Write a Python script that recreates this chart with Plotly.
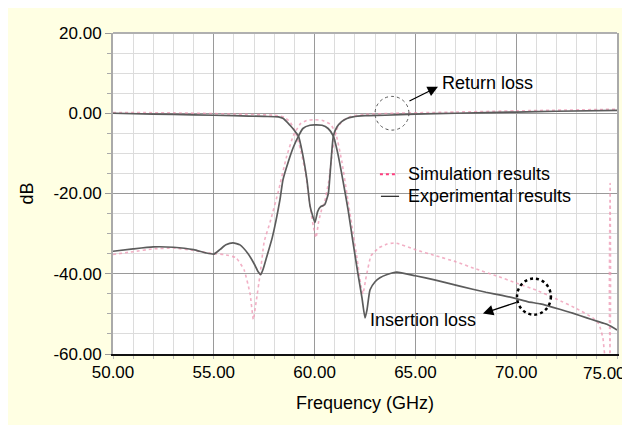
import plotly.graph_objects as go

# ---------------- data ----------------
# Return loss (S11), experimental
rl_exp_f = [50, 52, 54, 56, 57.5, 58.2, 58.45, 58.78, 59.0, 59.2, 59.4, 59.62, 59.77, 59.9, 60.02,
            60.15, 60.3, 60.5, 60.68, 60.8, 60.93, 61.1, 61.34, 61.6, 61.9, 62.5, 63.5, 65, 67, 70, 72, 75]
rl_exp_db = [0.0, -0.2, -0.4, -0.6, -0.8, -0.9, -1.3, -3.0, -4.3, -5.7, -10.0, -16.6, -23.0, -25.5, -27.2,
             -24.5, -23.3, -22.8, -20.0, -13.0, -5.7, -3.5, -2.1, -1.3, -0.9, -0.6, -0.5, -0.2, 0.0, 0.3, 0.5, 0.7]

# Return loss (S11), simulation
rl_sim_f = [50, 53, 56, 58, 58.5, 58.8, 59.05, 59.3, 59.55, 59.8, 59.95, 60.07, 60.2, 60.35, 60.5,
            60.7, 60.9, 61.1, 61.4, 61.8, 62.5, 64, 67, 70, 75]
rl_sim_db = [0.2, 0.1, -0.2, -0.5, -1.0, -2.3, -4.8, -9.0, -15.0, -24.0, -28.5, -31.0, -27.0, -24.0, -22.0,
             -17.0, -9.0, -4.0, -1.8, -0.8, -0.3, 0.0, 0.3, 0.6, 1.0]

# Insertion loss (S21), experimental
il_exp_f = [50, 51, 52, 53, 54, 54.6, 55.0, 55.3, 55.6, 55.95, 56.3, 56.7, 57.0, 57.2, 57.33, 57.45,
            57.6, 57.9, 58.28, 58.43, 58.7, 58.95, 59.2, 59.42, 59.77, 60.0, 60.37, 60.67, 60.93,
            61.15, 61.4, 61.66, 61.9, 62.15, 62.35, 62.5, 62.6, 62.75, 63.0, 63.24, 63.6, 64.07,
            65.0, 66.0, 67.2, 68.5, 69.3, 70.0, 70.6, 71.2, 72.2, 72.8, 73.5, 74.0, 74.5, 74.8, 75.0]
il_exp_db = [-34.4, -33.8, -33.3, -33.4, -34.0, -34.8, -35.1, -34.0, -32.8, -32.3, -32.8, -35.0, -37.5,
             -39.5, -40.2, -38.8, -36.2, -31.0, -21.6, -16.6, -12.0, -8.4, -5.7, -3.8, -3.0, -2.9,
             -3.0, -3.8, -5.7, -10.0, -16.6, -24.0, -32.0, -40.0, -46.0, -51.0, -49.0, -44.0, -42.0,
             -41.0, -40.2, -39.6, -40.5, -41.6, -43.1, -44.6, -45.4, -46.2, -47.0, -47.5, -48.9,
             -49.8, -51.0, -51.8, -52.6, -53.4, -54.0]

# Insertion loss (S21), simulation
il_sim_f = [50, 51, 52, 53, 54, 55, 55.5, 56.1, 56.5, 56.8, 56.96, 57.1, 57.3, 57.5, 57.8, 58.2,
            58.6, 58.95, 59.3, 59.6, 60.0, 60.4, 60.8, 61.05, 61.35, 61.6, 61.85, 62.1, 62.3, 62.4,
            62.55, 62.8, 63.2, 63.6, 64.0, 65, 66, 67, 68, 69, 70, 71, 72, 73, 73.8, 74.1, 74.3,
            74.45, 74.6, 74.66, 74.72, 75.0]
il_sim_db = [-35.2, -34.5, -33.8, -33.6, -34.2, -35.0, -35.2, -36.0, -39.0, -45.0, -51.4, -47.0, -40.0,
             -32.0, -27.0, -19.5, -11.0, -5.5, -2.6, -1.8, -1.6, -1.8, -2.8, -5.0, -12.0, -20.0,
             -28.0, -36.0, -43.0, -45.0, -41.0, -35.5, -33.5, -32.6, -32.3, -34.0, -35.5, -37.0,
             -38.8, -40.5, -42.3, -44.1, -46.3, -48.7, -51.0, -52.5, -56.0, -62.0, -62.0, -17.5,
             -62.0, -62.0]

x_ticks = [50, 55, 60, 65, 70, 75]
y_ticks = [20, 0, -20, -40, -60]

# ---------------- layout geometry (pixels, figure coordinates) ----------------
W, H = 630, 425
L, T = 105, 25
R = W - 609
B = H - 346

FONT = "Liberation Sans, Arial, sans-serif"
EXP_COLOR = "#5c5c5c"
SIM_COLOR = "rgba(238,150,178,0.75)"

fig = go.Figure()
fig.add_trace(go.Scatter(x=rl_sim_f, y=rl_sim_db, mode="lines", name="Simulation results",
                         line=dict(color=SIM_COLOR, width=1.6, dash="dot", shape="spline", smoothing=0.5),
                         showlegend=False))
fig.add_trace(go.Scatter(x=il_sim_f, y=il_sim_db, mode="lines", name="Simulation results",
                         line=dict(color=SIM_COLOR, width=1.6, dash="dot", shape="spline", smoothing=0.4),
                         showlegend=False))
fig.add_trace(go.Scatter(x=rl_exp_f, y=rl_exp_db, mode="lines", name="Experimental results",
                         line=dict(color=EXP_COLOR, width=1.7, shape="spline", smoothing=0.5),
                         showlegend=False))
fig.add_trace(go.Scatter(x=il_exp_f, y=il_exp_db, mode="lines", name="Experimental results",
                         line=dict(color=EXP_COLOR, width=1.7, shape="spline", smoothing=0.5),
                         showlegend=False))

shapes = [
    # top border
    dict(type="line", xref="paper", yref="paper", x0=0, x1=1, y0=1, y1=1,
         line=dict(color="#b0b0b0", width=2)),
    # circles
    dict(type="circle", xref="x", yref="y", x0=63.0, x1=64.68, y0=-4.2, y1=4.2,
         line=dict(color="#555555", width=1, dash="dot")),
    dict(type="circle", xref="x", yref="y", x0=70.04, x1=71.72, y0=-50.2, y1=-41.2,
         line=dict(color="black", width=2.5, dash="dot")),
    # legend samples
    dict(type="line", xref="x", yref="y", x0=63.24, x1=64.14, y0=-15.2, y1=-15.2,
         line=dict(color="#ff3d7f", width=2, dash="dot")),
    dict(type="line", xref="x", yref="y", x0=63.29, x1=64.19, y0=-20.7, y1=-20.7,
         line=dict(color="#222222", width=1.2)),
]

ann_font = dict(family=FONT, size=18, color="black")
tick_font = dict(family=FONT, size=17, color="black")

# last x tick label is pulled inside the canvas, as in the reference
x_ticktext = [f"{v:.2f}" for v in x_ticks]
last_label = x_ticktext[-1]
x_ticktext[-1] = ""

annotations = [
    dict(x=66.22, y=7.5, xref="x", yref="y", text="Return loss", showarrow=False,
         xanchor="left", yanchor="middle", font=ann_font),
    dict(x=68.1, y=-51.5, xref="x", yref="y", text="Insertion loss", showarrow=False,
         xanchor="right", yanchor="middle", font=ann_font),
    dict(x=64.53, y=-15.2, xref="x", yref="y", text="Simulation results", showarrow=False,
         xanchor="left", yanchor="middle", font=ann_font),
    dict(x=64.53, y=-20.7, xref="x", yref="y", text="Experimental results", showarrow=False,
         xanchor="left", yanchor="middle", font=ann_font),
    dict(x=1, y=0, xref="paper", yref="paper", text=last_label, showarrow=False,
         xanchor="right", yanchor="middle", xshift=11, yshift=-19, font=tick_font),
    # arrows
    dict(x=66.12, y=6.6, ax=64.63, ay=2.87, xref="x", yref="y", axref="x", ayref="y",
         text="", showarrow=True, arrowhead=2, arrowsize=1.6, arrowwidth=1.3, arrowcolor="black"),
    dict(x=68.35, y=-49.9, ax=70.09, ay=-47.0, xref="x", yref="y", axref="x", ayref="y",
         text="", showarrow=True, arrowhead=2, arrowsize=1.6, arrowwidth=1.3, arrowcolor="black"),
]

fig.update_layout(
    width=W, height=H,
    margin=dict(l=L, r=R, t=T, b=B, autoexpand=False),
    paper_bgcolor="#FFFFE3", plot_bgcolor="white",
    shapes=shapes, annotations=annotations,
    font=dict(family=FONT, size=17, color="black"),
    xaxis=dict(range=[50, 75.0001], tickvals=x_ticks, ticktext=x_ticktext,
               showgrid=True, gridcolor="#9a9a9a", gridwidth=1,
               minor=dict(dtick=1, showgrid=True, gridcolor="#dcdcdc", gridwidth=1.3,
                          ticks="outside", ticklen=3, tickcolor="#bbbbbb"),
               showline=True, linecolor="#111111", linewidth=2, mirror=False,
               ticks="", tickfont=tick_font, zeroline=False, ticklabelstandoff=2,
               title=dict(text="Frequency (GHz)", font=dict(family=FONT, size=18), standoff=15)),
    yaxis=dict(range=[-60, 20], tickvals=y_ticks, ticktext=[f"{v:.2f}" for v in y_ticks],
               showgrid=True, gridcolor="#9a9a9a", gridwidth=1,
               minor=dict(dtick=5, showgrid=True, gridcolor="#dcdcdc", gridwidth=1.3,
                          ticks="outside", ticklen=4, tickcolor="#aaaaaa"),
               showline=True, linecolor="#aaaaaa", linewidth=2, mirror=True,
               ticks="outside", ticklen=6, tickcolor="#999999", tickfont=tick_font,
               zeroline=False,
               title=dict(text="dB", font=dict(family=FONT, size=18), standoff=15)),
)

fig.write_html("out.html")
